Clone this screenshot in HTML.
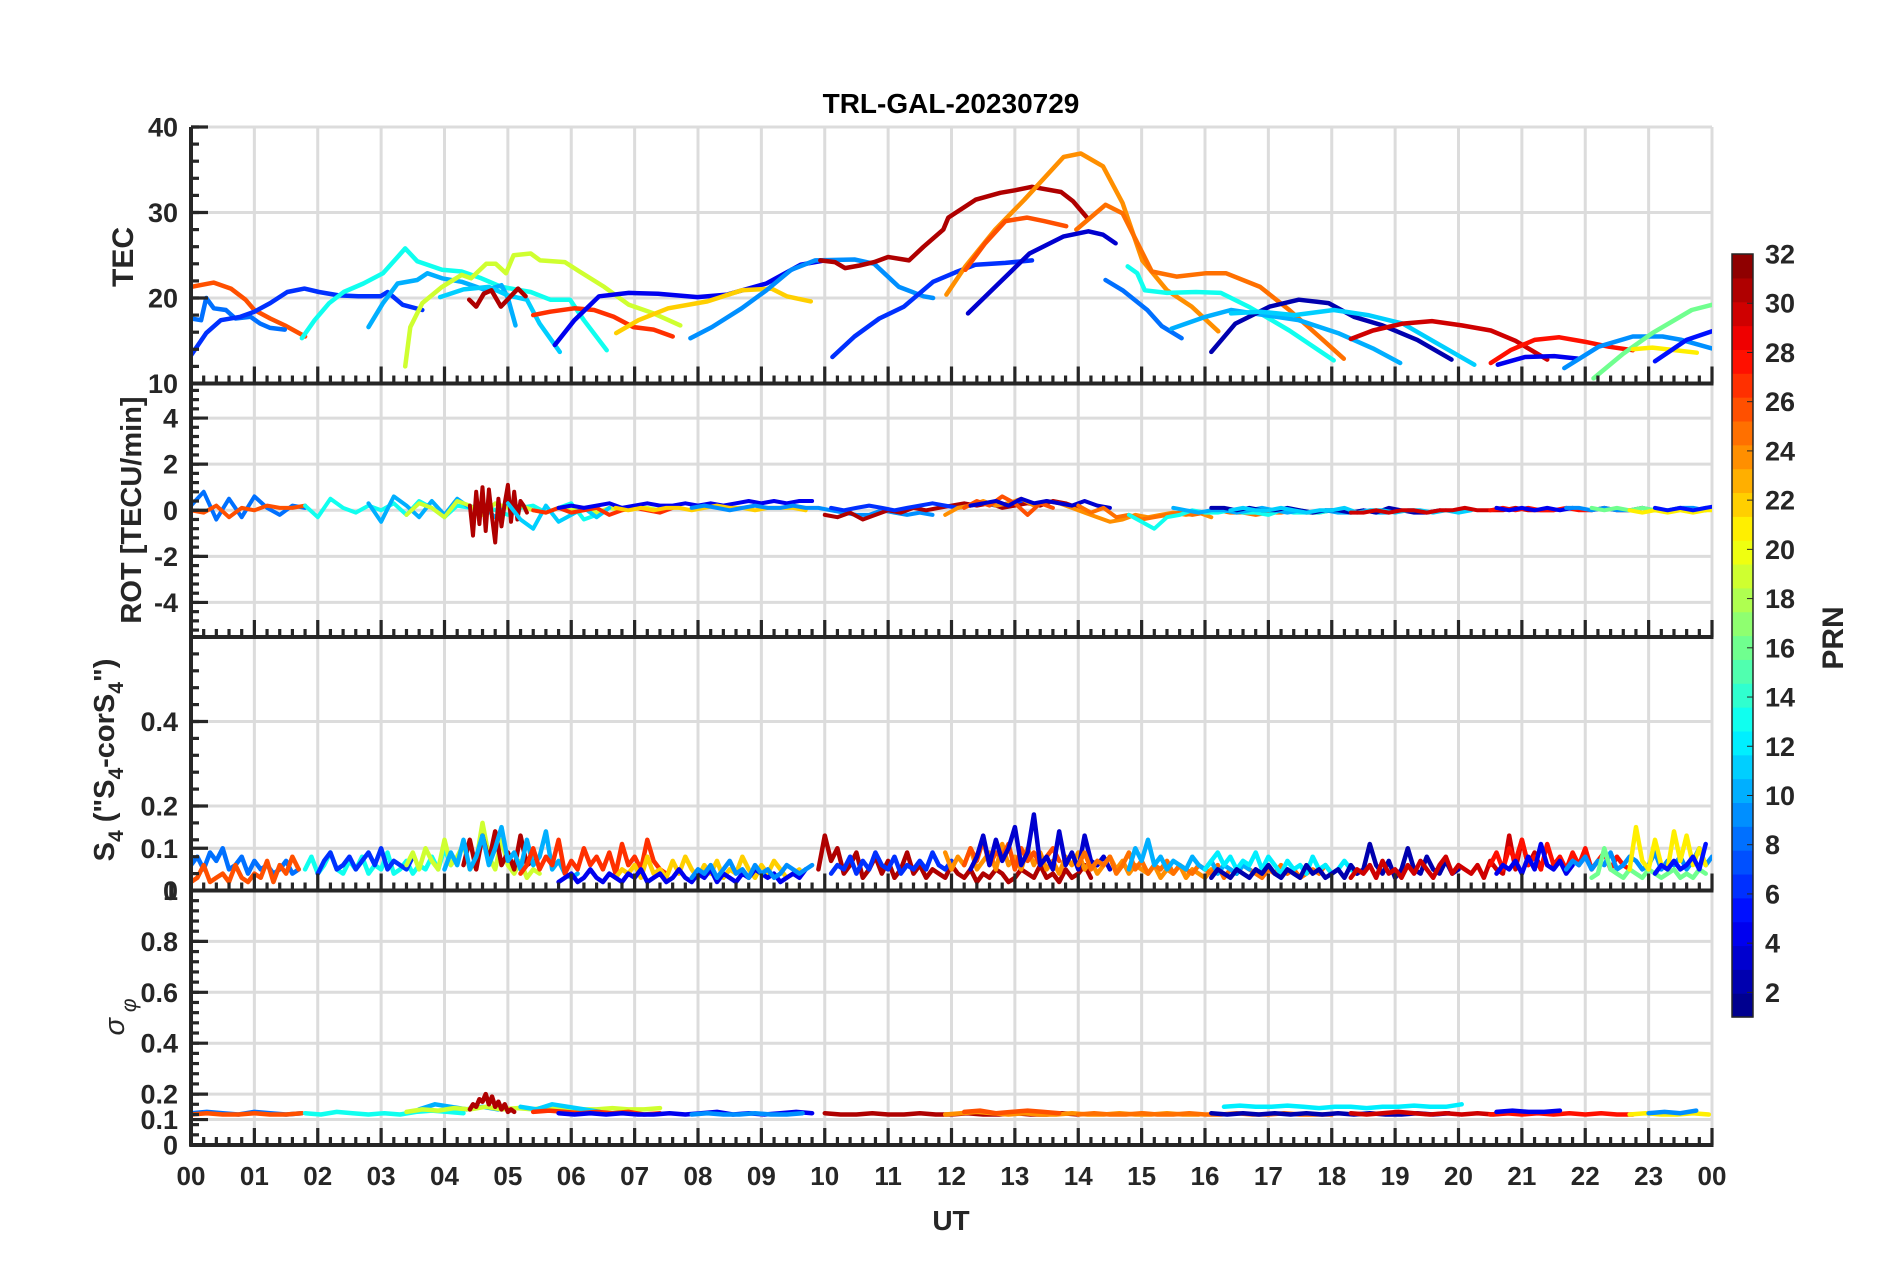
<!DOCTYPE html>
<html><head><meta charset="utf-8"><title>TRL-GAL-20230729</title>
<style>
html,body{margin:0;padding:0;background:#fff;}
svg{display:block;font-family:"Liberation Sans",Arial,sans-serif;}
text{font-weight:bold;fill:#262626;}
</style></head>
<body>
<svg id="chart" xmlns="http://www.w3.org/2000/svg" width="1902" height="1272" viewBox="0 0 1902 1272">
<rect x="0" y="0" width="1902" height="1272" fill="#fff"/>
<defs>
<clipPath id="c0"><rect x="191" y="127" width="1521" height="256.5"/></clipPath>
<clipPath id="c1"><rect x="191" y="383.5" width="1521" height="253.5"/></clipPath>
<clipPath id="c2"><rect x="191" y="637" width="1521" height="253.5"/></clipPath>
<clipPath id="c3"><rect x="191" y="890.5" width="1521" height="254.5"/></clipPath>
</defs>
<g id="grid"></g>
<g id="series"></g>
<g id="axes"></g>
<text x="951" y="113" text-anchor="middle" font-size="28" style="fill:#000">TRL-GAL-20230729</text>
<text transform="translate(133,257) rotate(-90)" text-anchor="middle" font-size="30">TEC</text>
<text transform="translate(141,510) rotate(-90)" text-anchor="middle" font-size="29">ROT [TECU/min]</text>
<text transform="translate(114,760) rotate(-90)" text-anchor="middle" font-size="29">S<tspan font-size="21" dy="9">4</tspan><tspan dy="-9"> ("S</tspan><tspan font-size="21" dy="9">4</tspan><tspan dy="-9">-corS</tspan><tspan font-size="21" dy="9">4</tspan><tspan dy="-9">")</tspan></text>
<text transform="translate(124,1017) rotate(-90)" text-anchor="middle" font-size="29" style="font-weight:normal;font-style:italic">σ<tspan font-size="21" dy="12"> φ</tspan></text>
<text x="951" y="1230" text-anchor="middle" font-size="28">UT</text>
<g id="colorbar"></g>
</svg>
<script>
// ---------- TEC data (hours UT, TECU) ----------
const tecPrn = [26,8,6,13,10,11,19,31,27,4,22,9,31,6,24,26,25,3,8,13,10,2,11,30,28,4,9,16,21,5];
const tecT = [
[0,0.36,0.63,0.86,1.0,1.25,1.48,1.8],
[0,0.16,0.24,0.36,0.55,0.7,0.94,1.09,1.25,1.48],
[0,0.24,0.47,0.78,1.0,1.25,1.52,1.79,2.02,2.33,2.64,2.99,3.1,3.34,3.65],
[1.75,1.95,2.18,2.41,2.72,3.03,3.26,3.38,3.57,3.96,4.27,4.58,4.9,5.36,5.67,5.98,6.2,6.56],
[2.8,3.03,3.26,3.57,3.73,3.96,4.27,4.66,4.9,5.0,5.12],
[3.93,4.3,4.7,5.0,5.3,5.5,5.82],
[3.38,3.46,3.65,3.96,4.27,4.42,4.66,4.81,4.97,5.09,5.36,5.51,5.9,6.13,6.52,6.91,7.3,7.72],
[4.39,4.5,4.62,4.74,4.89,5.02,5.16,5.28],
[5.4,5.67,6.05,6.36,6.67,6.98,7.3,7.6],
[5.74,6.05,6.44,6.91,7.37,7.99,8.46,9.08,9.62,10.0],
[6.71,7.06,7.53,8.15,8.69,9.16,9.4,9.78],
[7.88,8.22,8.69,9.08,9.47,9.85,10.47,10.78,11.17,11.56,11.71],
[9.93,10.16,10.32,10.55,10.78,11.0,11.33,11.56,11.87,11.95,12.38,12.77,13.0,13.27,13.73,13.92,14.15],
[10.12,10.47,10.86,11.25,11.71,12.06,12.38,12.85,13.27],
[11.92,12.22,12.69,13.15,13.77,14.04,14.39,14.7,15.01,15.4,15.79,16.21],
[12.22,12.53,12.85,13.19,13.46,13.81],
[13.97,14.43,14.7,15.16,15.55,16.02,16.33,16.87,17.33,17.8,18.19],
[12.26,12.69,13.23,13.77,14.16,14.39,14.59],
[14.43,14.7,15.09,15.32,15.63],
[14.78,14.93,15.05,15.4,15.86,16.25,16.71,17.33,18.03],
[15.47,16.01,16.41,16.94,17.48,18.1,18.65,19.08],
[16.1,16.48,17.02,17.48,17.95,18.35,18.8,19.35,19.89],
[16.41,16.87,17.41,18.03,18.57,19.12,19.66,20.25],
[18.3,18.65,19.12,19.58,20.05,20.51,20.9,21.4],
[20.51,20.82,21.2,21.59,21.98,22.37,22.75],
[20.62,21.05,21.51,21.9],
[21.67,22.21,22.75,23.22,23.52,24],
[22.13,22.6,23.06,23.68,24],
[22.75,23.06,23.76],
[23.1,23.6,24]
];
const tecV = [
[21.3,21.8,21.1,19.8,18.6,17.6,16.8,15.5],
[17.6,17.4,20,18.8,18.6,17.6,17.8,17,16.5,16.3],
[13.3,15.9,17.4,17.8,18.4,19.4,20.7,21.1,20.7,20.3,20.2,20.2,20.7,19.2,18.6],
[15.3,17.4,19.4,20.7,21.7,22.9,24.8,25.8,24.3,23.3,23.1,22.3,21.3,20.7,19.8,19.8,17.4,13.9],
[16.6,19.4,21.7,22.1,22.9,22.3,21.9,20.9,21.5,20,16.8],
[20.1,21,21.3,20.3,19.8,17,13.7],
[12,16.6,19.4,21.3,22.7,22.3,24,24,22.9,25,25.2,24.4,24.2,23.1,21.3,19.2,18.2,16.8],
[19.8,19,20.5,20.9,19,20,21.1,20.2],
[18,18.4,18.8,18.6,17.8,16.6,16.3,15.5],
[14.5,17.4,20.2,20.6,20.5,20.1,20.4,21.7,23.9,24.4],
[15.9,17.4,18.8,19.6,20.9,21.1,20.2,19.6],
[15.3,16.6,18.8,20.9,23.3,24.4,24.5,24,21.3,20.2,20],
[24.4,24.2,23.5,23.8,24.2,24.8,24.4,26,28,29.4,31.5,32.3,32.6,33,32.4,31.3,29.3],
[13.1,15.5,17.6,19,21.9,23,23.9,24.1,24.4],
[20.4,23.7,28,31.5,36.5,36.9,35.4,31.1,24.4,20.9,19,16.1],
[23.3,26.4,29,29.4,29,28.4],
[28,30.9,29.9,23.1,22.5,22.9,22.9,21.3,18.6,15.5,12.9],
[18.2,21.3,25.2,27.2,27.8,27.4,26.4],
[22.1,20.9,18.6,16.7,15.3],
[23.7,22.9,20.9,20.6,20.7,20.6,18.9,16.2,12.7],
[16.4,17.8,18.6,18,17.4,15.9,14.1,12.4],
[13.7,17,19,19.8,19.4,17.8,16.8,15.1,12.8],
[18.2,18.4,18,18.6,18,17,14.7,12.2],
[15.2,16.2,17,17.3,16.8,16.2,15,12.8],
[12.4,13.9,15.1,15.4,14.9,14.3,13.9],
[12.2,13.1,13.2,12.9],
[11.8,14.3,15.5,15.5,15.1,14.1],
[10.6,13.5,15.9,18.6,19.2],
[14,14.2,13.6],
[12.6,15.1,16.1]
];
// ---------- ROT data (start hour, step hour, TECU/min) ----------
const rotPrn = [8,26,13,10,19,31,11,27,4,22,9,31,6,24,26,3,25,13,10,2,11,30,28,4,9,16,21,5];
const rotStart = [0,0,1.8,2.8,3.4,4.4,5.0,5.4,5.8,6.7,7.9,10.0,10.1,11.9,12.2,12.3,14.0,14.8,15.5,16.1,16.4,18.3,20.5,20.6,21.7,22.1,22.7,23.1];
const rotStep = [0.2,0.2,0.2,0.2,0.2,0.05,0.2,0.2,0.2,0.2,0.2,0.2,0.2,0.2,0.2,0.2,0.2,0.2,0.2,0.2,0.2,0.2,0.2,0.2,0.2,0.2,0.2,0.2];
const rotV = [
[0.2,0.8,-0.4,0.5,-0.3,0.6,0.1,-0.2,0.2,0.1],
[0,-0.1,0.2,-0.3,0.1,0,0.2,0.1,0.1,0.2],
[0.2,-0.3,0.5,0.1,-0.1,0.2,0,0.3,-0.2,0.4,0.1,-0.3,0.2,0.1,0.3,0,-0.2,0.1,0.2,-0.1,0.1,0.3,-0.4,-0.2],
[0.3,-0.5,0.6,0.2,-0.3,0.4,-0.2,0.5,0.1,0.2,-0.3,0.4],
[-0.2,0.3,0.1,-0.3,0.4,0.2,-0.2,0.3,0.1,0.2,0,-0.1,0.1,0,0.1,-0.1,0.1,0,0.1,0.1,0],
[0.2,-1.1,0.8,-0.6,1.0,-0.9,0.9,-0.3,-1.4,0.5,-0.7,0.3,1.1,-0.5,0.8,-0.4,0.4,0.2,-0.1],
[0.3,-0.4,-0.8,0.2,-0.5,-0.2,0.1,-0.3,0.1],
[0,-0.1,0.1,-0.1,0,0.1,-0.2,0,0.1,0,-0.1,0.1],
[0.1,0.2,0.1,0.2,0.3,0.1,0.2,0.3,0.2,0.2,0.3,0.2,0.3,0.2,0.3,0.4,0.3,0.4,0.3,0.4,0.4],
[0.1,0,0.1,0,0.1,0.1,0,0.1,0.2,0.1,0.1,0,0.1,0.1,0.1,0],
[0.1,0.2,0.1,0,0.1,0.2,0.1,0.1,0.2,0.1,0.1,0,-0.1,-0.2,-0.2,0,-0.1,-0.2,-0.1,-0.2],
[-0.2,-0.3,-0.1,-0.4,-0.2,0,-0.1,0.1,0,0.1,0.2,0.3,0.2,0.3,0.1,0.2,0.3,0.2,0.4,0.3,0.1],
[0.1,0,0.1,0.2,0.1,0,0.1,0.2,0.3,0.2,0.1,0.2,0.3,0.2,0.3,0.4],
[-0.2,0.1,0.2,0.4,0.2,0.3,0.5,0.2,0.4,0.3,0.1,-0.1,-0.3,-0.5,-0.4,-0.2,-0.3,-0.2,-0.1,-0.2,-0.1,-0.3],
[0.1,0.4,0.2,0.6,0.3,-0.2,0.3,0.1],
[0.2,0.3,0.4,0.2,0.5,0.3,0.4,0.3,0.2,0.4,0.2,0.1],
[0.2,-0.1,0.1,-0.3,-0.2,-0.4,-0.3,-0.2,-0.1,-0.2,-0.1,0,-0.1,-0.1,-0.2,-0.1,-0.1,0,-0.1,-0.1,0],
[-0.2,-0.5,-0.8,-0.3,-0.2,0,-0.1,-0.1,0,-0.1,-0.1,-0.2,0,-0.1,-0.1,-0.1,0],
[0.1,0,-0.1,0,0,-0.1,0,0.1,0,-0.1,0,-0.1,0,-0.1,-0.1,0,-0.1,-0.1],
[0.1,0.1,0,0.1,0,0,0.1,0,-0.1,0,0,-0.1,0,-0.1,0.1,0,-0.1,-0.1,0],
[0,0.1,0,0,0.1,0,-0.1,0,0,0.1,-0.1,0,0,-0.1,0,0,-0.1,0,-0.1,0],
[-0.1,-0.1,0,-0.1,0,0,-0.1,0,0,0.1,0,0,0,0.1,0,0,0],
[0,0.1,0,0.1,0,0,0.1,0,0,0.1,0,0,0.1],
[0.1,0,0.1,0,0.1,0,0.1],
[0.1,0.1,0,0.1,0,0,0.1,0,0,0.1,0.1,0],
[0.1,0,0.1,0,0.1,0,0,0.1,0,0.1],
[0,-0.1,0,-0.1,0,-0.1,0,0],
[0.1,0,0.1,0,0.1,0.2]
];
// ---------- S4 data (start hour, step 0.1 h) ----------
const s4Prn = [8,26,13,6,19,31,10,27,22,4,9,31,6,24,26,3,25,10,12,2,30,28,4,9,16,21,5];
const s4Start = [0,0,1.8,2.0,3.4,4.3,4.0,5.2,6.7,5.8,7.9,9.9,10.1,11.9,12.2,12.3,14.0,14.8,16.0,16.1,18.3,20.5,20.6,21.7,22.1,22.7,23.1];
const s4V = [
[.06,.08,.05,.09,.07,.10,.05,.06,.08,.04,.07,.05,.06,.04,.05,.07,.04,.05],
[.02,.03,.06,.02,.03,.04,.02,.06,.03,.02,.04,.03,.07,.02,.06,.04,.08,.05],
[.05,.08,.04,.06,.09,.05,.04,.07,.05,.08,.04,.06,.05,.09,.04,.05,.07,.04,.06,.05,.08,.05,.1,.06],
[.04,.07,.09,.05,.06,.08,.05,.07,.09,.06,.1,.05,.07,.06,.05,.08],
[.06,.09,.05,.1,.07,.05,.12,.06,.08,.11,.05,.07,.16,.08,.05,.12,.06,.04,.07,.03,.05,.04],
[.06,.12,.05,.13,.07,.14,.06,.09,.05,.13,.06,.07],
[.05,.09,.06,.12,.05,.08,.13,.06,.1,.15,.07,.09,.05,.12,.06,.08,.14,.05,.07,.04,.03,.04],
[.04,.06,.1,.05,.08,.06,.12,.04,.07,.05,.1,.06,.08,.05,.09,.04,.11,.06,.08,.05,.12,.07,.05,.04],
[.03,.05,.04,.06,.03,.08,.04,.05,.03,.07,.04,.08,.05,.03,.06,.04,.07,.03,.05,.04,.08,.05,.03,.06,.04,.07,.05,.03,.04,.05],
[.02,.03,.04,.02,.03,.05,.03,.02,.04,.03,.02,.04,.03,.05,.02,.03,.04,.02,.03,.05,.03,.02,.04,.03,.05,.02,.04,.03,.02,.04,.03,.05,.04,.03,.04,.02,.03,.04,.03,.05],
[.03,.05,.04,.06,.03,.05,.07,.04,.05,.03,.06,.04,.05,.03,.04,.06,.05,.04,.05,.06],
[.05,.13,.07,.1,.04,.06,.09,.03,.05,.08,.04,.07,.03,.05,.09,.04,.06,.03,.05,.04,.03,.06,.04,.03,.05,.02,.04,.03,.05,.04,.02,.03,.05,.04,.03,.06,.03,.04,.02,.05,.03,.04,.06,.03],
[.04,.06,.05,.08,.04,.07,.05,.09,.06,.05,.08,.04,.06,.05,.07,.05,.09,.06,.05,.07],
[.09,.05,.08,.06,.1,.05,.07,.09,.05,.11,.06,.08,.05,.1,.06,.09,.05,.07,.04,.08,.06,.09,.05,.07,.04,.06,.08,.05,.07,.04,.06,.05,.04,.06,.03,.05,.04,.06,.03,.05,.04,.03,.05],
[.06,.1,.07,.12,.06,.09,.08,.11,.05,.1,.07,.09,.06,.08,.1,.07],
[.05,.08,.13,.06,.12,.07,.1,.15,.06,.09,.18,.06,.08,.05,.14,.06,.09,.05,.13,.07,.06,.08,.05],
[.06,.09,.05,.07,.06,.08,.04,.06,.09,.05,.07,.04,.06,.05,.07,.04,.06,.05,.04,.06,.05,.04,.06,.03,.05,.04,.06,.05,.04,.03,.05,.04,.06,.04,.05,.03,.04,.05,.04,.06,.04,.05],
[.05,.1,.07,.12,.06,.08,.05,.07,.06,.05,.08,.06,.05,.07,.04,.06,.05,.04,.06,.05],
[.05,.07,.09,.06,.08,.05,.07,.06,.09,.05,.08,.06,.04,.07,.05,.06,.04,.08,.05,.06,.04,.05,.07,.05,.04],
[.03,.05,.04,.03,.05,.04,.03,.05,.04,.06,.04,.03,.05,.04,.03,.06,.04,.05,.03,.04,.05,.03,.06,.04,.05,.11,.06,.04,.07,.03,.05,.1,.05,.04,.08,.05,.04,.07,.04,.05],
[.03,.05,.04,.06,.03,.07,.04,.05,.03,.06,.04,.07,.05,.03,.06,.08,.04,.06,.05,.04,.06,.03,.07,.05,.04,.13,.05,.12,.06,.09,.05],
[.06,.09,.05,.1,.07,.12,.06,.08,.05,.11,.06,.08,.05,.09,.06,.1,.05,.07,.09,.05,.08,.06,.05],
[.04,.06,.05,.07,.04,.08,.05,.11,.06,.05,.07,.04,.06],
[.05,.07,.06,.08,.05,.07,.06,.09,.05,.06,.08,.07,.05,.06,.09,.05,.07,.06,.08,.05,.07,.1,.06,.08],
[.03,.04,.1,.05,.04,.03,.05,.04,.03,.05,.04,.03,.04,.05,.03,.04,.03,.05,.04],
[.05,.15,.07,.05,.12,.06,.05,.14,.07,.13,.06,.1,.06],
[.04,.06,.05,.07,.05,.06,.08,.05,.11]
];
// ---------- sigma-phi data (start hour, step hour) ----------
const sigPrn = [8,26,13,10,19,31,11,27,4,9,31,24,26,25,12,2,30,28,4,21,9];
const sigStart = [0,0,1.8,3.6,3.4,4.4,5.2,5.4,5.8,7.9,10,11.9,12.2,14.0,16.3,16.1,18.3,20.5,20.6,22.7,23.0];
const sigStep = [0.25,0.25,0.25,0.25,0.25,0.05,0.25,0.25,0.25,0.25,0.25,0.25,0.25,0.25,0.25,0.25,0.25,0.25,0.25,0.25,0.25];
const sigV = [
[.125,.13,.125,.12,.13,.125,.12,.125],
[.12,.125,.12,.12,.125,.12,.12,.125],
[.125,.12,.13,.125,.12,.125,.12,.13,.135,.13,.125],
[.14,.16,.15,.14,.15,.14],
[.13,.14,.135,.145,.14,.15,.14,.145,.14,.15,.145,.14,.14,.145,.14,.14,.145],
[.14,.16,.15,.18,.17,.2,.16,.19,.15,.17,.14,.16,.13,.14,.13],
[.15,.14,.16,.15,.14,.13],
[.13,.135,.13,.125,.13,.125,.13,.12,.125],
[.125,.12,.125,.12,.125,.12,.12,.125,.12,.125,.13,.12,.125,.12,.125,.13,.125],
[.12,.125,.12,.12,.125,.12,.12,.125],
[.125,.12,.12,.125,.12,.12,.125,.12,.12,.125,.12,.12,.125,.12,.12,.125,.12],
[.12,.125,.13,.125,.12,.125,.12,.12,.125,.12,.12,.125,.12,.12,.125,.12,.12],
[.13,.135,.125,.13,.135,.13,.125],
[.12,.125,.12,.12,.125,.12,.12,.125,.12,.12,.125,.12,.12,.125,.12,.12,.12],
[.15,.155,.15,.15,.155,.15,.145,.15,.15,.145,.15,.15,.155,.15,.15,.16],
[.125,.12,.125,.12,.125,.12,.125,.12,.125,.12,.125,.12,.12,.125,.12,.125],
[.125,.12,.125,.13,.125,.12,.125,.12,.125,.12,.125,.13,.125],
[.12,.125,.12,.125,.12,.125,.12,.125,.12,.12],
[.13,.135,.13,.13,.135],
[.12,.125,.12,.12,.125,.12],
[.125,.13,.125,.135]
];
// ---------- axis tick definitions ----------
const tecTicks = [10,20,30,40];
const rotTicks = [-4,-2,0,2,4];
const s4Ticks = [0,0.1,0.2,0.4];
const sigTicks = [0,0.1,0.2,0.4,0.6,0.8,1];
const hourLabels = ['00','01','02','03','04','05','06','07','08','09','10','11','12','13','14','15','16','17','18','19','20','21','22','23','00'];
const cbTicks = [2,4,6,8,10,12,14,16,18,20,22,24,26,28,30,32];

const NS = 'http://www.w3.org/2000/svg';
const gGrid = document.getElementById('grid');
const gSeries = document.getElementById('series');
const gAxes = document.getElementById('axes');
const gCb = document.getElementById('colorbar');
const XL = 191, XR = 1712;
const panels = [
  {top:127, bot:383.5, min:10, max:40, minor:2, ticks:tecTicks, grid:[20,30,40], name:'tec'},
  {top:383.5, bot:637, min:-5.5, max:5.5, minor:0.4, ticks:rotTicks, grid:[-4,-2,0,2,4], name:'rot'},
  {top:637, bot:890.5, min:0, max:0.6, minor:0.04, ticks:s4Ticks, grid:[0.1,0.2,0.4], name:'s4'},
  {top:890.5, bot:1145, min:0, max:1, minor:0.04, ticks:sigTicks, grid:[0.1,0.2,0.4,0.6,0.8], name:'sigma'}
];
function X(h){ return XL + h*(XR-XL)/24; }
function Y(p,v){ const P=panels[p]; return P.bot - (v-P.min)/(P.max-P.min)*(P.bot-P.top); }
function jet(prn){
  let idx = Math.min(32, Math.floor((prn-1)/31*32)+1);
  const x = (idx-0.5)/32;
  const c = t => Math.round(255*Math.max(0,Math.min(1,t)));
  return 'rgb('+c(1.5-Math.abs(4*x-3))+','+c(1.5-Math.abs(4*x-2))+','+c(1.5-Math.abs(4*x-1))+')';
}
function el(tag, attrs, parent){
  const e = document.createElementNS(NS, tag);
  for (const k in attrs) e.setAttribute(k, attrs[k]);
  parent.appendChild(e);
  return e;
}
function fmt(v){ return (Math.round(v*10)/10).toString(); }

panels.forEach((P, p) => {
  for (let h=0; h<=24; h++){
    const g = el('line',{x1:X(h),x2:X(h),y1:P.top,y2:P.bot,stroke:'#dcdcdc','stroke-width':3},gGrid);
    
    
  }
  P.grid.forEach(v => {
    const g = el('line',{x1:XL,x2:XR,y1:Y(p,v),y2:Y(p,v),stroke:'#dcdcdc','stroke-width':3},gGrid);
    
    
  });
  const ax = el('line',{x1:XL-1.5,x2:XR+1.5,y1:P.bot,y2:P.bot,stroke:'#262626','stroke-width':4},gAxes);
  
  
  for (let i=0; i<=120; i++){
    const len = (i%5===0) ? 17 : 8;
    const t = el('line',{x1:X(i*0.2),x2:X(i*0.2),y1:P.bot,y2:P.bot-len,stroke:'#262626','stroke-width':3.2},gAxes);
    
    
  }
  const ay = el('line',{x1:XL,x2:XL,y1:P.top,y2:P.bot+1.5,stroke:'#262626','stroke-width':4},gAxes);
  
  
  const n = Math.round((P.max-P.min)/P.minor);
  for (let k=-n; k<=2*n; k++){
    const v = P.ticks[0] + k*P.minor;
    if (v < P.min-1e-9 || v > P.max+1e-9) continue;
    const t = el('line',{x1:XL,x2:XL+8,y1:Y(p,v),y2:Y(p,v),stroke:'#262626','stroke-width':3.2},gAxes);
    
    
  }
  P.ticks.forEach(v => {
    const t = el('line',{x1:XL,x2:XL+17,y1:Y(p,v),y2:Y(p,v),stroke:'#262626','stroke-width':3.2},gAxes);
    
    
    const lb = el('text',{x:178,y:Y(p,v)+9.5,'text-anchor':'end','font-size':27},gAxes);
    lb.textContent = (p>=2) ? String(v) : fmt(v);
    
    
  });
});
hourLabels.forEach((s,i) => {
  const t = el('text',{x:X(i),y:1185,'text-anchor':'middle','font-size':26},gAxes);
  t.textContent = s;
  
  
});

function drawPath(p, pts, prn, w, name){
  let d = '';
  pts.forEach((q,i) => { d += (i?'L':'M') + X(q[0]).toFixed(1) + ',' + Y(p,q[1]).toFixed(1); });
  const e = el('path',{d:d,fill:'none',stroke:jet(prn),'stroke-width':w,'stroke-linejoin':'round','stroke-linecap':'round','clip-path':'url(#c'+p+')'},gSeries);
  
  
}
tecPrn.forEach((prn,i) => {
  drawPath(0, tecT[i].map((t,j)=>[t, tecV[i][j]]), prn, 4.5, 'tec-arc-prn'+prn);
});
rotPrn.forEach((prn,i) => {
  drawPath(1, rotV[i].map((v,j)=>[rotStart[i]+j*rotStep[i], v]), prn, 4, 'rot-arc-prn'+prn);
});
s4Prn.forEach((prn,i) => {
  drawPath(2, s4V[i].map((v,j)=>[s4Start[i]+j*0.1, v]), prn, 4.5, 's4-arc-prn'+prn);
});
sigPrn.forEach((prn,i) => {
  drawPath(3, sigV[i].map((v,j)=>[sigStart[i]+j*sigStep[i], v]), prn, 4.5, 'sigma-arc-prn'+prn);
});

const CB = {x:1732, w:21, top:254, bot:1017, min:1, max:32};
for (let i=1; i<=32; i++){
  const h = (CB.bot-CB.top)/32;
  const r = el('rect',{x:CB.x,y:CB.bot-i*h,width:CB.w,height:h+0.6,fill:jet(1+(i-0.5)*31/32)},gCb);
  
  
}
const cbFrame = el('rect',{x:CB.x,y:CB.top,width:CB.w,height:CB.bot-CB.top,fill:'none',stroke:'#262626','stroke-width':1.5},gCb);


cbTicks.forEach(v => {
  const y = CB.bot - (v-CB.min)/(CB.max-CB.min)*(CB.bot-CB.top);
  const t = el('line',{x1:CB.x+CB.w-6,x2:CB.x+CB.w,y1:y,y2:y,stroke:'#262626','stroke-width':1},gCb);
  
  
  const lb = el('text',{x:1765,y:y+9.5,'font-size':27},gCb);
  lb.textContent = String(v);
  
  
});
const prnLabel = el('text',{transform:'translate(1843,638) rotate(-90)','text-anchor':'middle','font-size':30},gCb);
prnLabel.textContent = 'PRN';


</script>
</body></html>
